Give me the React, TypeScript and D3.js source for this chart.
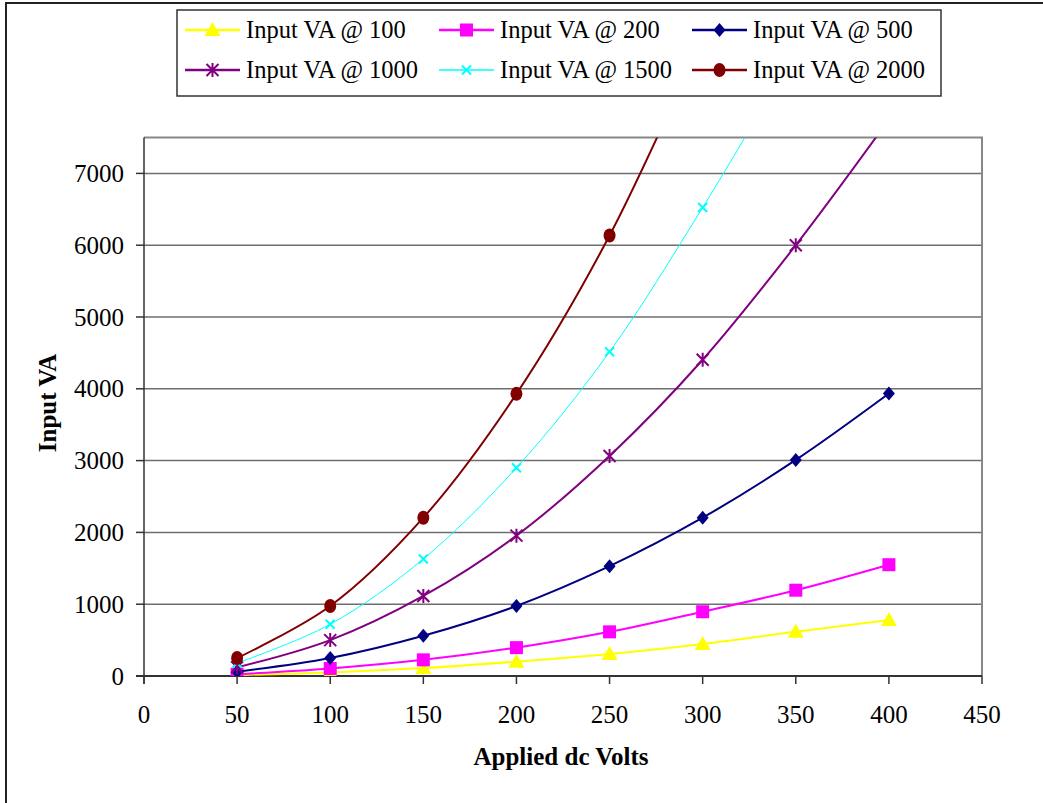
import { useMemo } from 'react';
import * as d3 from 'd3';

// applied dc volts (x)
const volts = [50, 100, 150, 200, 250, 300, 350, 400];

// input VA readings per series (last points of the steep ones run past the top)
const va100 = [12, 50, 110, 200, 305, 445, 615, 780];
const va200 = [25, 105, 225, 395, 615, 895, 1195, 1550];
const va500 = [60, 250, 560, 975, 1530, 2205, 3010, 3935];
const va1000 = [120, 500, 1115, 1955, 3065, 4405, 6000, 7750];
const va1500 = [180, 720, 1630, 2900, 4515, 6525, 8700];
const va2000 = [250, 975, 2205, 3930, 6135, 8900];

const seriesNames = [
  'Input VA @ 100',
  'Input VA @ 200',
  'Input VA @ 500',
  'Input VA @ 1000',
  'Input VA @ 1500',
  'Input VA @ 2000',
];
const xTicks = [0, 50, 100, 150, 200, 250, 300, 350, 400, 450];
const yTicks = [0, 1000, 2000, 3000, 4000, 5000, 6000, 7000];

const W = 1043;
const H = 803;
const plot = { left: 144, right: 982, top: 137.5, bottom: 676 };
const FONT = '"Times New Roman", "Liberation Serif", serif';

type Marker = 'triangle' | 'square' | 'diamond' | 'asterisk' | 'cross' | 'circle';

const styles: { color: string; width: number; marker: Marker }[] = [
  { color: '#FFFF00', width: 2, marker: 'triangle' },
  { color: '#FF00FF', width: 2, marker: 'square' },
  { color: '#000080', width: 2, marker: 'diamond' },
  { color: '#800080', width: 2, marker: 'asterisk' },
  { color: '#00FFFF', width: 1, marker: 'cross' },
  { color: '#800000', width: 2, marker: 'circle' },
];

function MarkerShape({ type, x, y, color }: { type: Marker; x: number; y: number; color: string }) {
  switch (type) {
    case 'triangle':
      return <path d={`M${x},${y - 8}L${x + 8},${y + 6}L${x - 8},${y + 6}Z`} fill={color} />;
    case 'square':
      return <rect x={x - 6.5} y={y - 6.5} width={13} height={13} fill={color} />;
    case 'diamond':
      return <path d={`M${x},${y - 7}L${x + 6},${y}L${x},${y + 7}L${x - 6},${y}Z`} fill={color} />;
    case 'asterisk':
      return (
        <path
          d={`M${x - 6},${y - 6}L${x + 6},${y + 6}M${x + 6},${y - 6}L${x - 6},${y + 6}M${x},${y - 7}L${x},${y + 7}`}
          stroke={color}
          strokeWidth={2}
          fill="none"
        />
      );
    case 'cross':
      return (
        <path
          d={`M${x - 4.5},${y - 4.5}L${x + 4.5},${y + 4.5}M${x + 4.5},${y - 4.5}L${x - 4.5},${y + 4.5}`}
          stroke={color}
          strokeWidth={2}
          fill="none"
        />
      );
    default:
      return <ellipse cx={x} cy={y} rx={6} ry={7} fill={color} />;
  }
}

export default function App() {
  const x = useMemo(() => d3.scaleLinear().domain([0, 450]).range([plot.left, plot.right]), []);
  const y = useMemo(() => d3.scaleLinear().domain([0, 7500]).range([plot.bottom, plot.top]), []);

  const allSeries = [va100, va200, va500, va1000, va1500, va2000];
  const line = d3
    .line<[number, number]>()
    .x((d) => x(d[0]))
    .y((d) => y(d[1]))
    .curve(d3.curveCatmullRom.alpha(0.5));

  const legendCols = [185, 439, 692];
  const legendRows = [30, 70];

  return (
    <svg
      width={W}
      height={H}
      style={{ position: 'absolute', left: 0, top: 0, background: '#fff' }}
      fontFamily={FONT}
    >
      <defs>
        <clipPath id="plotClip">
          <rect x={plot.left} y={plot.top} width={plot.right - plot.left} height={plot.bottom - plot.top} />
        </clipPath>
      </defs>

      {/* outer chart frame (only left and top visible) */}
      <path d={`M6,${H}L6,3L${W},3`} fill="none" stroke="#222" strokeWidth={2} />

      {/* grid lines */}
      {yTicks.filter((t) => t > 0).map((t) => (
        <line key={t} x1={plot.left} x2={plot.right} y1={y(t)} y2={y(t)} stroke="#6e6e6e" strokeWidth={1.5} />
      ))}
      {/* plot border top/right */}
      <path
        d={`M${plot.left},${plot.top}L${plot.right},${plot.top}L${plot.right},${plot.bottom}`}
        fill="none"
        stroke="#888"
        strokeWidth={2}
      />

      {/* axes */}
      <line x1={plot.left} x2={plot.left} y1={plot.top} y2={plot.bottom + 8} stroke="#333" strokeWidth={1.5} />
      <line x1={plot.left - 8} x2={plot.right} y1={plot.bottom} y2={plot.bottom} stroke="#333" strokeWidth={2} />
      {yTicks.map((t) => (
        <g key={t}>
          <line x1={plot.left - 8} x2={plot.left} y1={y(t)} y2={y(t)} stroke="#333" strokeWidth={1.5} />
          <text x={124} y={y(t)} dy="0.34em" textAnchor="end" fontSize={25}>
            {t}
          </text>
        </g>
      ))}
      {xTicks.map((t) => (
        <g key={t}>
          <line x1={x(t)} x2={x(t)} y1={plot.bottom} y2={plot.bottom + 8} stroke="#333" strokeWidth={1.5} />
          <text x={x(t)} y={723} textAnchor="middle" fontSize={25}>
            {t}
          </text>
        </g>
      ))}

      <text transform="translate(56,403) rotate(-90)" textAnchor="middle" fontSize={25} fontWeight="bold">
        Input VA
      </text>
      <text x={561} y={765} textAnchor="middle" fontSize={25} fontWeight="bold">
        Applied dc Volts
      </text>

      {/* series */}
      <g clipPath="url(#plotClip)">
        {allSeries.map((vals, i) => {
          const pts = vals.map((v, j) => [volts[j], v] as [number, number]);
          const s = styles[i];
          return (
            <g key={i}>
              <path d={line(pts) ?? ''} fill="none" stroke={s.color} strokeWidth={s.width} />
              {pts.map((p, j) => (
                <MarkerShape key={j} type={s.marker} x={x(p[0])} y={y(p[1])} color={s.color} />
              ))}
            </g>
          );
        })}
      </g>

      {/* legend */}
      <rect x={177} y={10} width={764} height={86} fill="#fff" stroke="#333" strokeWidth={1.5} />
      {seriesNames.map((name, i) => {
        const cx = legendCols[i % 3];
        const cy = legendRows[Math.floor(i / 3)];
        const s = styles[i];
        return (
          <g key={name}>
            <line x1={cx} x2={cx + 55} y1={cy} y2={cy} stroke={s.color} strokeWidth={s.width + 0.5} />
            <MarkerShape type={s.marker} x={cx + 27.5} y={cy} color={s.color} />
            <text x={cx + 61} y={cy} dy="0.34em" fontSize={24.5}>
              {name}
            </text>
          </g>
        );
      })}
    </svg>
  );
}
